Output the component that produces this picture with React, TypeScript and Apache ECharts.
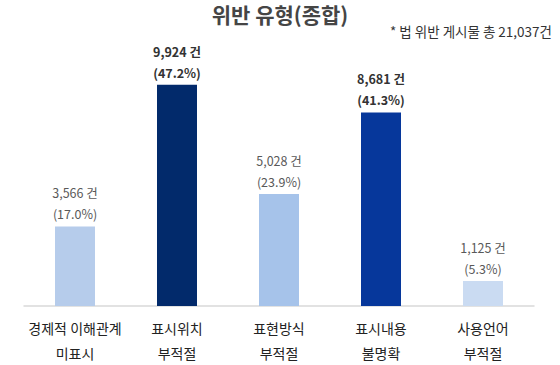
import React, { useEffect, useRef } from "react";
import * as echarts from "echarts";

const categories = ["경제적 이해관계\n미표시", "표시위치\n부적절", "표현방식\n부적절", "표시내용\n불명확", "사용언어\n부적절"];
const counts = [3566, 9924, 5028, 8681, 1125];
const percents = ["17.0%", "47.2%", "23.9%", "41.3%", "5.3%"];
const barColors = ["#b6cceb", "#022a6b", "#a6c3ea", "#06379b", "#cadbf2"];
const boldFlags = [false, true, false, true, false];
const titleText = "위반 유형(종합)";
const noteText = "* 법 위반 게시물 총 21,037건";

const FONT = "'Noto Sans CJK KR', 'Noto Sans', sans-serif";

export default function App() {
  const ref = useRef<HTMLDivElement>(null);
  useEffect(() => {
    if (!ref.current) return;
    const chart = echarts.init(ref.current, undefined, { renderer: "svg" });
    const fmt = (n: number) => n.toLocaleString("en-US");
    chart.setOption({
      animation: false,
      textStyle: { fontFamily: FONT },
      title: [
        {
          text: titleText,
          left: "center",
          top: 2,
          padding: 0,
          textStyle: { fontFamily: FONT, fontSize: 21, lineHeight: 24, fontWeight: "bold", color: "#454545" },
        },
        {
          text: noteText,
          right: 3,
          top: 19,
          textStyle: { fontFamily: FONT, fontSize: 13.5, fontWeight: "normal", color: "#333" },
        },
      ],
      grid: { left: 24, right: 26, top: 83, bottom: 56, containLabel: false },
      xAxis: {
        type: "category",
        data: categories,
        axisLine: { lineStyle: { color: "#d9d9d9", width: 1.5 } },
        axisTick: { show: false },
        axisLabel: {
          interval: 0,
          color: "#222",
          fontSize: 14,
          lineHeight: 25,
          margin: 9,
          fontFamily: FONT,
        },
      },
      yAxis: {
        type: "value",
        min: 0,
        max: 10000,
        show: false,
        splitLine: { show: false },
      },
      series: [
        {
          type: "bar",
          barWidth: 40,
          data: counts.map((v, i) => ({
            value: v,
            itemStyle: { color: barColors[i] },
            label: {
              show: true,
              position: "top",
              distance: 2,
              formatter: `${fmt(v)} 건\n(${percents[i]})`,
              fontSize: 12.5,
              lineHeight: 21,
              fontFamily: FONT,
              fontWeight: boldFlags[i] ? "bold" : "normal",
              color: boldFlags[i] ? "#333" : "#595959",
            },
          })),
        },
      ],
    });
    return () => chart.dispose();
  }, []);
  return (
    <div
      ref={ref}
      style={{ position: "fixed", left: 0, top: 0, width: 560, height: 365, background: "#fff" }}
    />
  );
}
